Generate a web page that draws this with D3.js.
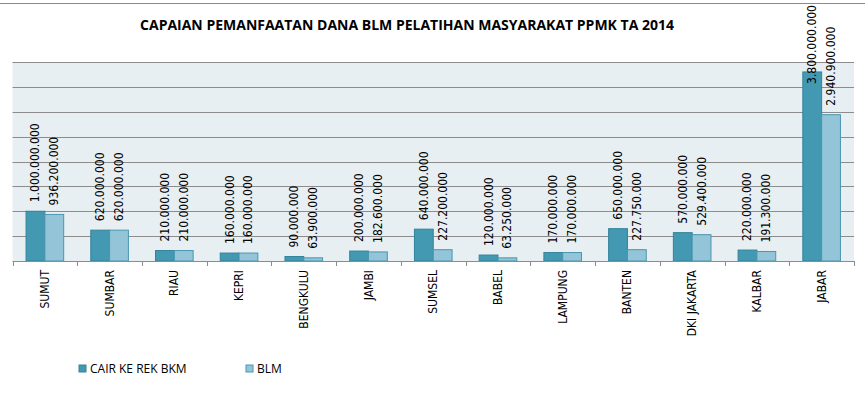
<!DOCTYPE html>
<html>
<head>
<meta charset="utf-8">
<script src="https://cdn.jsdelivr.net/npm/d3@7"></script>
<style>
  body { margin: 0; background: #fff; }
  text { font-family: "Open Sans", "DejaVu Sans", sans-serif; }
</style>
</head>
<body>
<script>
// data
var provinces = ["SUMUT", "SUMBAR", "RIAU", "KEPRI", "BENGKULU", "JAMBI", "SUMSEL",
                 "BABEL", "LAMPUNG", "BANTEN", "DKI JAKARTA", "KALBAR", "JABAR"]
var cairValues = [1000000000, 620000000, 210000000, 160000000, 90000000, 200000000, 640000000,
                  120000000, 170000000, 650000000, 570000000, 220000000, 3800000000]
var blmValues = [936200000, 620000000, 210000000, 160000000, 63900000, 182600000, 227200000,
                 63250000, 170000000, 227750000, 529400000, 191300000, 2940900000]
var seriesNames = ["CAIR KE REK BKM", "BLM"]
var yTicks = [0, 500000000, 1000000000, 1500000000, 2000000000, 2500000000, 3000000000, 3500000000, 4000000000]

var width = 865,
    height = 420
var plot = { left: 12.5, right: 854, top: 62, bottom: 261 }
var colors = ["#4299b1", "#93c4d7"]
var strokes = ["#34839b", "#4a97b0"]

var svg = d3.select("body").append("svg")
  .attr("width", width)
  .attr("height", height)

var x = d3.scaleBand().domain(provinces).range([plot.left, plot.right]).paddingInner(0).paddingOuter(0)
var xInner = d3.scaleBand().domain([0, 1]).range([0, x.bandwidth()]).paddingOuter(0.72).paddingInner(0)
var y = d3.scaleLinear().domain([0, 4000000000]).range([plot.bottom, plot.top])

// top border line of the chart
svg.append("line")
  .attr("x1", 0).attr("x2", width)
  .attr("y1", 3.5).attr("y2", 3.5)
  .attr("stroke", "#8a8a8a")

svg.append("text")
  .attr("x", 407)
  .attr("y", 30)
  .attr("text-anchor", "middle")
  .style("font-size", "14px")
  .style("font-weight", "bold")
  .attr("fill", "#000")
  .text("CAPAIAN PEMANFAATAN DANA BLM PELATIHAN MASYARAKAT PPMK TA 2014")

svg.append("rect")
  .attr("x", plot.left).attr("y", plot.top)
  .attr("width", plot.right - plot.left).attr("height", plot.bottom - plot.top)
  .attr("fill", "#e8eff3")

svg.append("g").selectAll("line")
  .data(yTicks.slice(1))
  .enter().append("line")
  .attr("x1", plot.left).attr("x2", plot.right)
  .attr("y1", function(d) { return Math.round(y(d)) + 0.5 })
  .attr("y2", function(d) { return Math.round(y(d)) + 0.5 })
  .attr("stroke", "#8c8c8c")

var rows = provinces.map(function(p, i) {
  return { name: p, values: [cairValues[i], blmValues[i]] }
})

var groups = svg.append("g").selectAll("g")
  .data(rows)
  .enter().append("g")
  .attr("transform", function(d) { return "translate(" + x(d.name) + ",0)" })

groups.selectAll("rect")
  .data(function(d) { return d.values.map(function(v, k) { return { k: k, v: v } }) })
  .enter().append("rect")
  .attr("x", function(d) { return xInner(d.k) })
  .attr("y", function(d) { return y(d.v) })
  .attr("width", xInner.bandwidth())
  .attr("height", function(d) { return plot.bottom - y(d.v) })
  .attr("fill", function(d) { return colors[d.k] })
  .attr("stroke", function(d) { return strokes[d.k] })
  .attr("stroke-width", 1)

// value labels, rotated, pushed down when they would leave the chart
function fmt(v) { return d3.format(",")(v).replace(/,/g, ".") }

groups.selectAll("text.val")
  .data(function(d) { return d.values.map(function(v, k) { return { k: k, v: v } }) })
  .enter().append("text")
  .attr("class", "val")
  .style("font-size", "12px")
  .style("font-family", "'DejaVu Sans Condensed', 'DejaVu Sans', sans-serif")
  .attr("fill", "#000")
  .text(function(d) { return fmt(d.v) })
  .each(function(d) {
    var len = this.getComputedTextLength()
    var start = y(d.v) - 9
    if (start - len < 5) start = 5 + len
    var cx = xInner(d.k) + xInner.bandwidth() / 2 + 4
    d3.select(this).attr("transform", "translate(" + cx + "," + start + ") rotate(-90)")
  })

// x axis
svg.append("line")
  .attr("x1", plot.left).attr("x2", plot.right)
  .attr("y1", plot.bottom + 0.5).attr("y2", plot.bottom + 0.5)
  .attr("stroke", "#8c8c8c")

svg.append("g").selectAll("line")
  .data(d3.range(provinces.length + 1))
  .enter().append("line")
  .attr("x1", function(i) { return Math.round(plot.left + i * x.bandwidth()) + 0.5 })
  .attr("x2", function(i) { return Math.round(plot.left + i * x.bandwidth()) + 0.5 })
  .attr("y1", plot.bottom).attr("y2", plot.bottom + 5)
  .attr("stroke", "#8c8c8c")

svg.append("g").selectAll("text")
  .data(provinces)
  .enter().append("text")
  .attr("transform", function(d) {
    return "translate(" + (x(d) + x.bandwidth() / 2 + 4) + "," + (plot.bottom + 9) + ") rotate(-90)"
  })
  .attr("text-anchor", "end")
  .style("font-size", "12px")
  .style("font-family", "'DejaVu Sans Condensed', 'DejaVu Sans', sans-serif")
  .attr("fill", "#000")
  .text(function(d) { return d })

// legend
var legendX = [79, 246]
var legend = svg.append("g").selectAll("g")
  .data(seriesNames)
  .enter().append("g")
  .attr("transform", function(d, i) { return "translate(" + legendX[i] + ",365)" })

legend.append("rect")
  .attr("width", 7).attr("height", 7)
  .attr("fill", function(d, i) { return colors[i] })
  .attr("stroke", function(d, i) { return strokes[i] })

legend.append("text")
  .attr("x", 11)
  .attr("y", 8)
  .style("font-size", "12px")
  .style("font-family", "'Open Sans', sans-serif")
  .attr("fill", "#000")
  .text(function(d) { return d })
</script>
</body>
</html>
